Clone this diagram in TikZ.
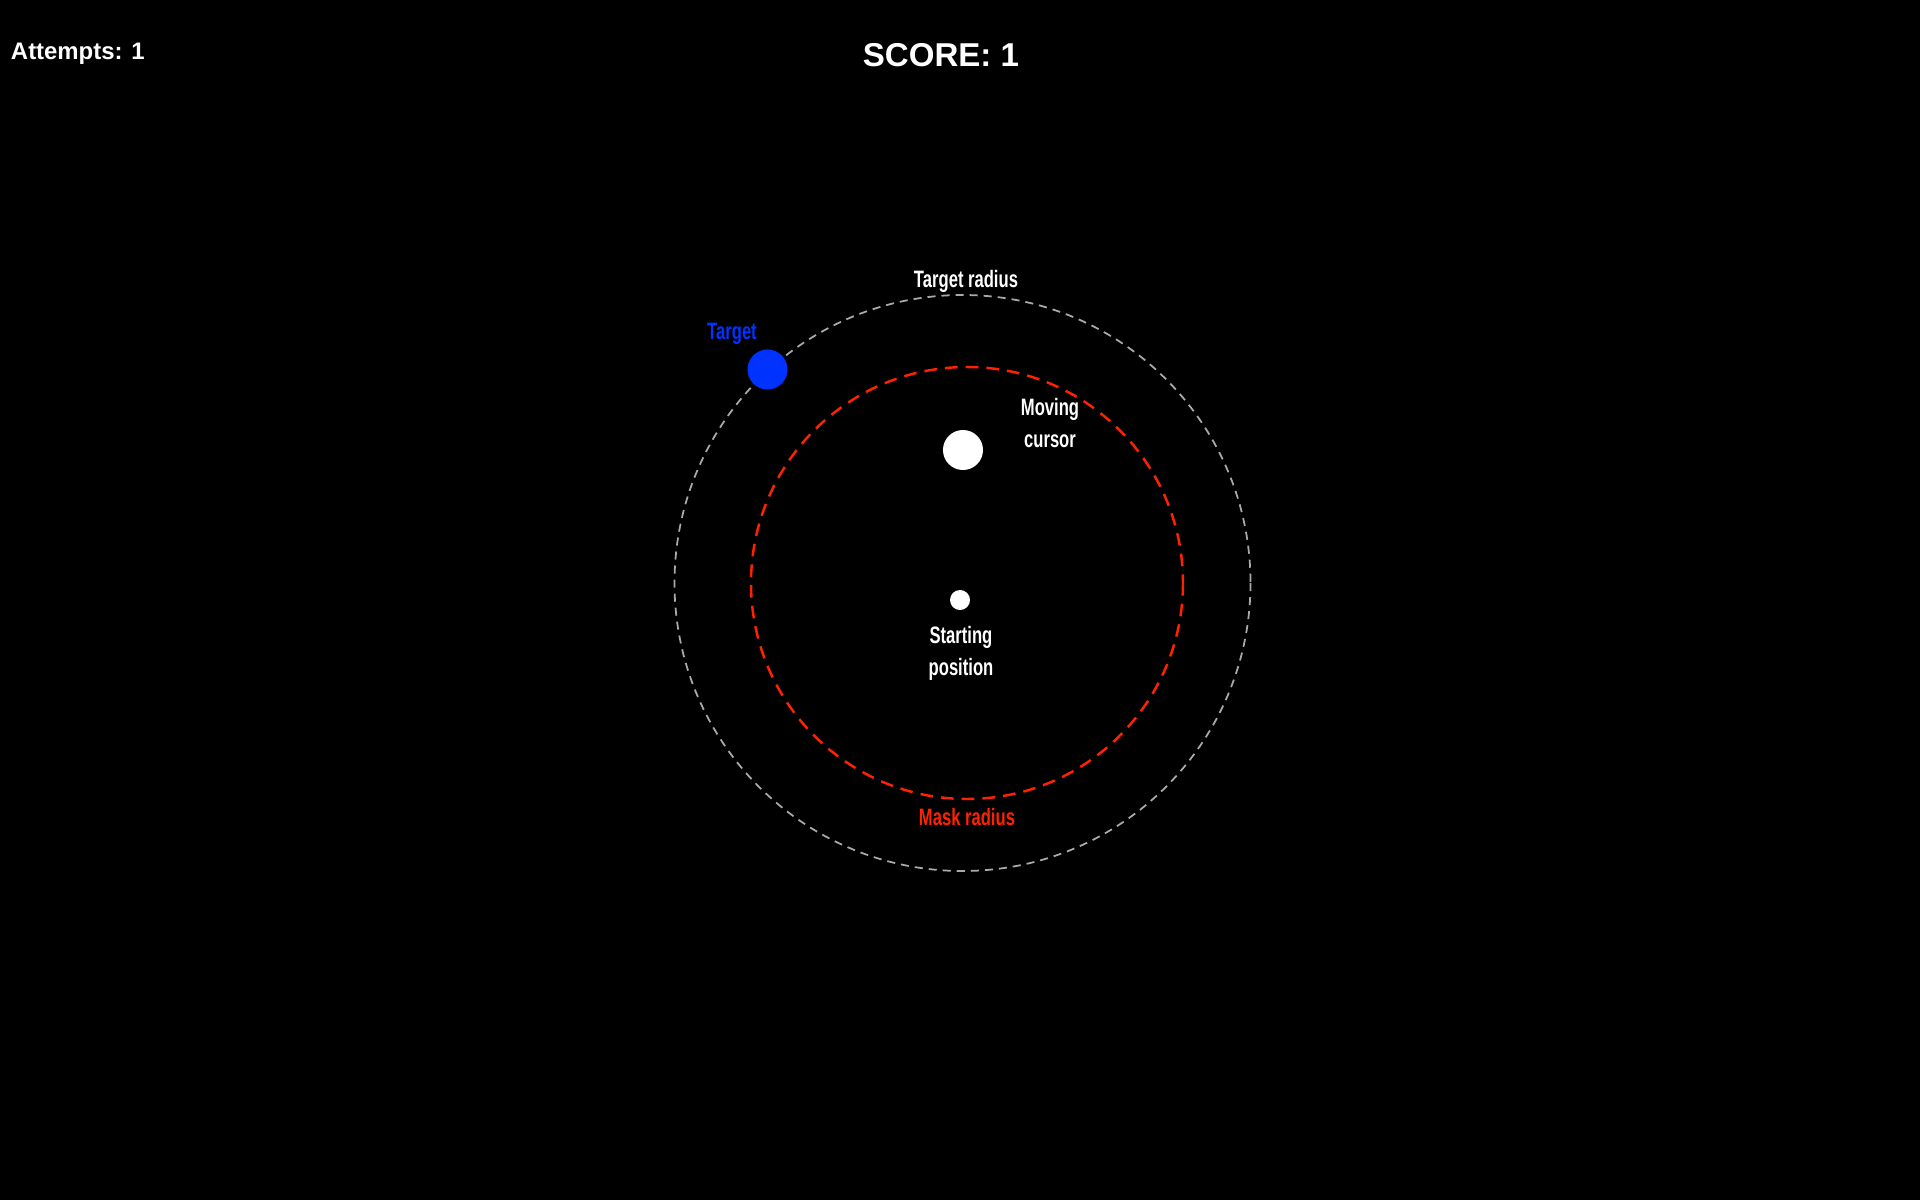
\documentclass[tikz,border=0pt]{standalone}
\usepackage{fontspec}
\setmainfont{Liberation Sans}
\newfontfamily\labelfont[FakeStretch=0.70]{Liberation Sans Bold}
\definecolor{targetblue}{RGB}{0,51,255}
\definecolor{maskred}{RGB}{255,34,0}
\definecolor{ringgray}{RGB}{170,170,170}
\begin{document}
\begin{tikzpicture}[x=0.01cm, y=-0.01cm,
    every node/.style = {inner sep=0pt, outer sep=0pt},
    hud/.style = {text=white, font=\bfseries},
    caption/.style = {font=\labelfont\fontsize{6.75}{9.1}\selectfont, align=center},
    dot/.style = {shape=circle, fill=white, minimum size=#1},
    ring/.style = {dash pattern=on 2.3pt off 1.7pt, line width=0.5pt, draw=ringgray}]
  \fill[black] (0,0) rectangle (1920,1200);
  \useasboundingbox (0,0) rectangle (1920,1200);
  % score display
  \node[hud, anchor=base west, font=\bfseries\fontsize{6.8}{8}\selectfont] (attempts) at (11,60) {Attempts: 1};
  \node[hud, anchor=base, font=\bfseries\fontsize{9.4}{11}\selectfont] (score) at (941,67) {SCORE: 1};
  % rings
  \coordinate (centre) at (962.5,583);
  \coordinate (maskcentre) at (967,583);
  \draw[ring] (centre) circle (288);
  \draw[maskred, line width=0.7pt, dash pattern=on 3.6pt off 2.3pt] (maskcentre) circle (216);
  % dots
  \node[dot=0.4cm, fill=targetblue] (target) at (767.5,369.5) {};
  \node[dot=0.4cm] (cursor) at (963,450) {};
  \node[dot=0.2cm] (start) at (960,600) {};
  % labels
  \node[caption, text=white, anchor=base] (ringlabel) at (966,287) {Target radius};
  \node[caption, text=targetblue, anchor=base] (targetlabel) at (732,339) {Target};
  \node[caption, text=white] (cursorlabel) at (1050,423) {Moving\\cursor};
  \node[caption, text=white] (startlabel) at (961,653) {Starting\\position};
  \node[caption, text=maskred, anchor=base] (masklabel) at (967,825) {Mask radius};
\end{tikzpicture}
\end{document}
